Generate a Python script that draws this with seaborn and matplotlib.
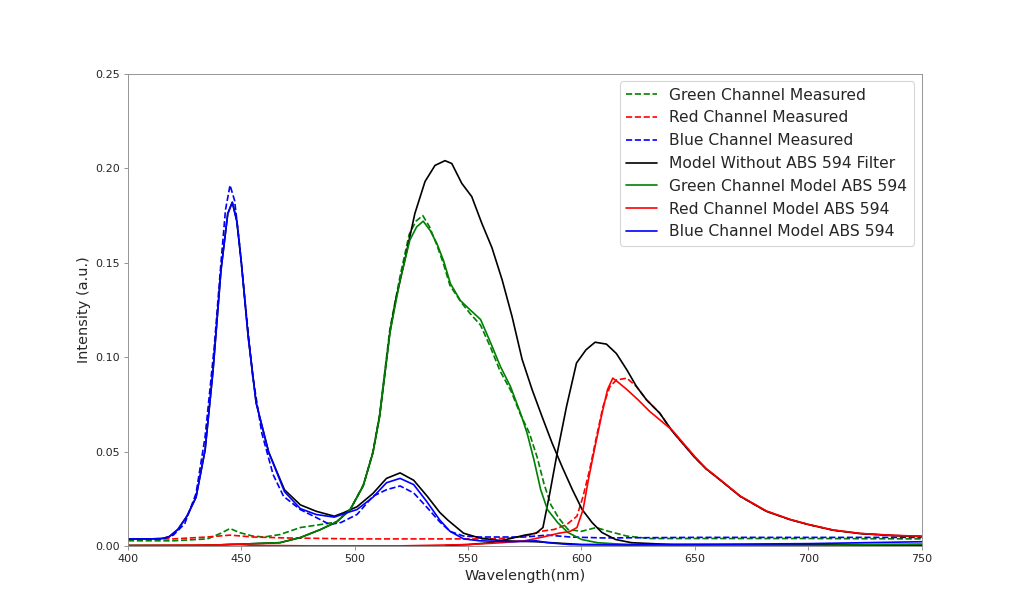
import numpy as np
import pandas as pd
import matplotlib
matplotlib.use("Agg")
import matplotlib.pyplot as plt
import seaborn as sns

# ---- data (wavelength in nm, intensity a.u.) ----
wl_g_meas = [400, 420, 435, 441, 445, 449, 455, 460, 467, 476, 485, 492, 498, 504, 508, 511,
             515.5, 520, 524, 527, 530, 533, 536, 539, 542, 547, 551, 555.5, 560, 564, 569,
             573, 577, 580.5, 583.5, 586.5, 590, 594, 600, 606.5, 612, 620, 630, 650, 700, 750]
g_meas = [0.003, 0.003, 0.004, 0.007, 0.0095, 0.0074, 0.0055, 0.005, 0.0063, 0.010, 0.0116, 0.013,
          0.0195, 0.033, 0.050, 0.070, 0.115, 0.143, 0.165, 0.172, 0.175, 0.169, 0.160, 0.150,
          0.138, 0.129, 0.123, 0.117, 0.105, 0.093, 0.082, 0.070, 0.060, 0.047, 0.033, 0.022,
          0.015, 0.009, 0.008, 0.010, 0.008, 0.0055, 0.0042, 0.0042, 0.0042, 0.004]

wl_r_meas = [400, 420, 435, 445, 455, 470, 500, 530, 560, 570, 577, 582, 588, 593.5, 598, 600.7,
             603.6, 606.6, 609.5, 612.5, 615.4, 620, 624.3, 628.7, 634.5, 640, 645, 650, 655,
             661, 670, 681.5, 692, 700, 711, 723, 737, 750]
r_meas = [0.004, 0.004, 0.005, 0.006, 0.005, 0.0045, 0.004, 0.004, 0.004, 0.0045, 0.006, 0.008,
          0.009, 0.0116, 0.016, 0.0265, 0.0406, 0.058, 0.074, 0.0845, 0.088, 0.089, 0.0845,
          0.0775, 0.0705, 0.061, 0.054, 0.047, 0.041, 0.0353, 0.0265, 0.0186, 0.0142, 0.0116,
          0.0086, 0.0068, 0.0058, 0.0053]

wl_b_meas = [400, 415, 420, 425, 430, 434, 438, 441, 443, 445, 447, 449, 452, 455, 459, 464,
             468.6, 476, 483, 489, 494, 501, 508, 514, 520, 526, 531.6, 537.5, 542, 548, 555,
             565, 575, 585, 595, 610, 650, 700, 750]
b_meas = [0.004, 0.004, 0.006, 0.012, 0.028, 0.058, 0.105, 0.150, 0.178, 0.191, 0.183, 0.162,
          0.125, 0.090, 0.060, 0.038, 0.0265, 0.0195, 0.0153, 0.0116, 0.0127, 0.0169, 0.0265,
          0.030, 0.032, 0.0283, 0.021, 0.013, 0.008, 0.0055, 0.005, 0.005, 0.005, 0.006, 0.005,
          0.0045, 0.0048, 0.0048, 0.0048]

# model without ABS 594 filter (one curve per channel)
wl_k_blue = [400, 410, 415, 418, 422, 426, 430, 434, 437.5, 441, 444, 446, 448, 450, 453, 456.5,
             462, 469, 476, 483, 491, 495, 501, 508, 514, 520, 526, 532, 537.5, 541, 548, 555,
             565, 580, 600, 750]
k_blue = [0.004, 0.004, 0.0042, 0.005, 0.009, 0.016, 0.026, 0.051, 0.093, 0.146, 0.176, 0.182,
          0.172, 0.150, 0.111, 0.076, 0.050, 0.030, 0.022, 0.0186, 0.016, 0.0178, 0.021, 0.028,
          0.036, 0.0389, 0.035, 0.0265, 0.018, 0.014, 0.007, 0.0045, 0.003, 0.0025, 0.001, 0.001]

wl_k_green = [400, 430, 445, 458, 467, 476, 485, 492, 498, 503.7, 508, 511, 515.5, 518, 522,
              526.5, 531, 535.4, 539.8, 542.8, 547.2, 551.6, 556, 560.5, 565, 569.4, 573.8,
              578.2, 582.6, 587, 591.5, 596, 600.3, 604.7, 609, 615, 622, 640, 750]
k_green = [0.0005, 0.0005, 0.001, 0.0016, 0.002, 0.0047, 0.009, 0.013, 0.0195, 0.032, 0.0495,
           0.069, 0.113, 0.130, 0.151, 0.176, 0.193, 0.2015, 0.204, 0.2025, 0.192, 0.185, 0.171,
           0.158, 0.141, 0.1215, 0.099, 0.083, 0.0687, 0.0548, 0.042, 0.030, 0.0195, 0.0126,
           0.0074, 0.0037, 0.002, 0.001, 0.0005]

wl_k_red = [540, 550, 560, 568, 575, 580, 583, 586, 589, 593.4, 597.8, 602, 606, 611, 615.4,
            620, 624.3, 628.7, 634.5, 640, 645, 650, 655, 661, 670, 681.5, 692, 700, 711, 723,
            737, 750]
k_red = [0.0005, 0.001, 0.002, 0.004, 0.006, 0.007, 0.010, 0.028, 0.0476, 0.074, 0.097, 0.104,
         0.108, 0.107, 0.102, 0.0934, 0.0845, 0.0775, 0.0705, 0.061, 0.054, 0.047, 0.041, 0.0353,
         0.0265, 0.0186, 0.0142, 0.0116, 0.0086, 0.0068, 0.0058, 0.0053]

# models with ABS 594 filter
wl_g_mod = [400, 430, 445, 458, 467, 476, 485, 492, 498, 503.7, 508, 511, 515.5, 520, 524.3,
            527.3, 530.2, 533.3, 536.3, 539.2, 542.2, 546.6, 551, 555.5, 560, 564.3, 568.7,
            573.1, 576, 579, 582, 585, 589.5, 594, 600, 607, 620, 700, 750]
g_mod = [0.0005, 0.0005, 0.001, 0.0016, 0.002, 0.0047, 0.009, 0.013, 0.0195, 0.032, 0.0495,
         0.069, 0.113, 0.141, 0.162, 0.169, 0.172, 0.167, 0.160, 0.151, 0.139, 0.130, 0.125,
         0.120, 0.1075, 0.095, 0.0845, 0.0705, 0.060, 0.046, 0.030, 0.0195, 0.0126, 0.0074,
         0.0037, 0.002, 0.001, 0.0005, 0.0012]

wl_r_mod = [400, 440, 446, 455, 480, 520, 550, 565, 575, 583, 590, 595, 598, 600.7, 603, 606,
            609, 611.5, 613.8, 616, 620, 625, 630, 635, 640, 645, 650, 655, 661, 670, 681.5,
            692, 700, 711, 723, 737, 750]
r_mod = [0.0005, 0.0008, 0.0012, 0.0006, 0.0003, 0.0003, 0.001, 0.002, 0.003, 0.005, 0.007,
         0.008, 0.010, 0.0195, 0.035, 0.053, 0.070, 0.083, 0.089, 0.087, 0.083, 0.0775, 0.0715,
         0.0665, 0.0615, 0.0545, 0.0475, 0.0412, 0.0355, 0.0267, 0.0188, 0.0143, 0.0117,
         0.0087, 0.0069, 0.0059, 0.0054]

wl_b_mod = [400, 410, 415, 418, 422, 426, 430, 434, 437.5, 441, 444, 446, 448, 450, 453, 456.5,
            462, 469, 476, 483, 491, 497, 501, 508, 514, 520, 526, 531.6, 537.5, 542, 548, 555,
            570, 580, 585, 595, 620, 700, 750]
b_mod = [0.004, 0.004, 0.0042, 0.005, 0.009, 0.016, 0.026, 0.051, 0.093, 0.146, 0.176, 0.182,
         0.172, 0.150, 0.111, 0.076, 0.050, 0.029, 0.020, 0.0169, 0.0155, 0.018, 0.0195, 0.026,
         0.0337, 0.036, 0.0327, 0.024, 0.014, 0.008, 0.004, 0.003, 0.0025, 0.003, 0.002, 0.001,
         0.0008, 0.0015, 0.0025]

sns.set_style("ticks")
plt.rcParams.update({
    "axes.edgecolor": "0.55",
    "xtick.color": "0.55",
    "ytick.color": "0.55",
    "xtick.labelcolor": "0.15",
    "ytick.labelcolor": "0.15",
    "font.family": ["DejaVu Sans"],
})

fig, ax = plt.subplots(figsize=(12.8, 7.675), dpi=80)
fig.subplots_adjust(left=0.125, right=0.9, top=0.88, bottom=0.11)

# measured (dashed)
sns.lineplot(x=wl_g_meas, y=g_meas, ax=ax, color="green", linestyle="--", label="Green Channel Measured")
sns.lineplot(x=wl_r_meas, y=r_meas, ax=ax, color="red", linestyle="--", label="Red Channel Measured")
sns.lineplot(x=wl_b_meas, y=b_meas, ax=ax, color="blue", linestyle="--", label="Blue Channel Measured")

# model without filter (black)
sns.lineplot(x=wl_k_green, y=k_green, ax=ax, color="black", label="Model Without ABS 594 Filter")
sns.lineplot(x=wl_k_red, y=k_red, ax=ax, color="black")
sns.lineplot(x=wl_k_blue, y=k_blue, ax=ax, color="black")

# models with filter
sns.lineplot(x=wl_g_mod, y=g_mod, ax=ax, color="green", label="Green Channel Model ABS 594")
sns.lineplot(x=wl_r_mod, y=r_mod, ax=ax, color="red", label="Red Channel Model ABS 594")
sns.lineplot(x=wl_b_mod, y=b_mod, ax=ax, color="blue", label="Blue Channel Model ABS 594")

ax.set_xlim(400, 750)
ax.set_ylim(0, 0.25)
ax.set_xticks([400, 450, 500, 550, 600, 650, 700, 750])
ax.set_yticks([0.0, 0.05, 0.10, 0.15, 0.20, 0.25])
ax.set_yticklabels(["0.00", "0.05", "0.10", "0.15", "0.20", "0.25"])
ax.tick_params(labelsize=10)
ax.set_xlabel("Wavelength(nm)", fontsize=13, color="0.15")
ax.set_ylabel("Intensity (a.u.)", fontsize=13, color="0.15")
ax.legend(loc="upper right", fontsize=14)

plt.savefig("out.png", dpi=80)
